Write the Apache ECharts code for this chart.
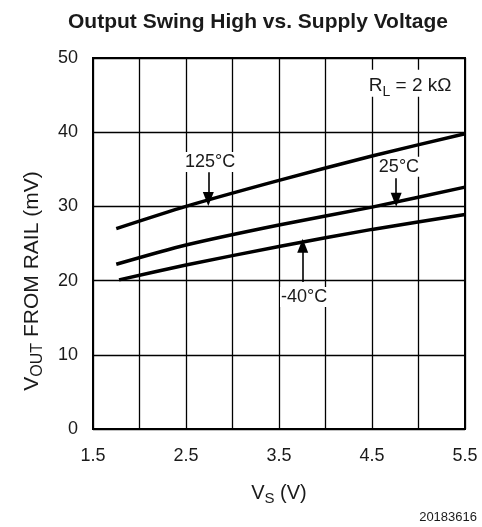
<!DOCTYPE html>
<html><head><meta charset="utf-8">
<script src="https://cdn.jsdelivr.net/npm/echarts@6/dist/echarts.min.js"></script>
<style>html,body{margin:0;padding:0;background:#fff}#c{width:482px;height:527px}</style>
</head><body><div id="c"></div>
<script>
var xTicks = ['1.5','2.5','3.5','4.5','5.5'];
var yTicks = ['0','10','20','30','40','50'];
var t125 = [[1.75,27.0],[2.5,30.0],[3.5,33.5],[4.5,36.8],[5.5,39.8]];
var t25  = [[1.75,22.2],[2.5,24.8],[3.5,27.5],[4.5,29.9],[5.5,32.6]];
var tm40 = [[1.78,20.1],[2.5,22.1],[3.5,24.6],[4.5,26.9],[5.5,28.9]];
var labels = [[2.76,36.0,'125°C'],[4.79,35.35,'25°C'],[3.77,17.8,'-40°C']];
var arrows = [[[2.74,34.6],[2.74,31.0]],[[4.76,33.8],[4.76,30.9]],[[3.755,19.8],[3.755,24.7]]];
var noteRL = [[4.91,46.6]];

var FONT = 'Liberation Sans, Arial, sans-serif';
var TXT = '#1a1a1a';
var chart = echarts.init(document.getElementById('c'), null, {renderer:'canvas'});
function lineSeries(d){
  return {type:'line', data:d, symbol:'none', smooth:0.25, lineStyle:{color:'#000', width:3.5}, z:3, silent:true};
}
function rich(big, small){
  return {
    m:{fontFamily:FONT, fontSize:big, color:TXT, fill:TXT, lineHeight:big+6, verticalAlign:'bottom'},
    s:{fontFamily:FONT, fontSize:small, color:TXT, fill:TXT, lineHeight:big+6, verticalAlign:'bottom', padding:[0,0,-3,0]}
  };
}
chart.setOption({
  animation:false,
  title:{text:'Output Swing High vs. Supply Voltage', left:63, top:7,
    textStyle:{fontFamily:FONT, fontSize:21, fontWeight:'bold', color:TXT}},
  grid:{left:93, right:17, top:58, bottom:98, show:true, borderColor:'#000', borderWidth:2, backgroundColor:'transparent'},
  xAxis:{type:'value', min:1.5, max:5.5, interval:0.5,
    axisLine:{show:false}, axisTick:{show:false},
    splitLine:{show:true, lineStyle:{color:'#000', width:1.3}},
    axisLabel:{margin:18, fontFamily:FONT, fontSize:18, color:TXT,
      formatter:function(v){ var s=v.toFixed(1); return xTicks.indexOf(s)>=0 ? s : ''; }},
    name:'{m|V}{s|S}{m| (V)}', nameLocation:'middle', nameGap:48,
    nameTextStyle:{fontFamily:FONT, color:TXT, rich:rich(20,15)}
  },
  yAxis:{type:'value', min:0, max:50, interval:10,
    axisLine:{show:false}, axisTick:{show:false},
    splitLine:{show:true, lineStyle:{color:'#000', width:1.3}},
    axisLabel:{margin:15, fontFamily:FONT, fontSize:18, color:TXT,
      formatter:function(v){ var s=String(v); return yTicks.indexOf(s)>=0 ? s : ''; }}
  },
  graphic:[
    {type:'text', right:5, top:511, style:{text:'20183616', fontFamily:FONT, fontSize:13, fill:TXT}},
    {type:'text', x:29, y:281, rotation:Math.PI/2, style:{
      text:'{m|V}{s|OUT}{m| FROM RAIL (mV)}', align:'center', verticalAlign:'middle', rich:rich(21,16)}}
  ],
  series:[
    lineSeries(t125), lineSeries(t25), lineSeries(tm40),
    {type:'scatter', data:labels, symbolSize:0, z:4, silent:true, itemStyle:{opacity:1},
      label:{show:true, position:'inside', formatter:function(p){return p.data[2];},
        fontFamily:FONT, fontSize:18, color:TXT, backgroundColor:'#fff', padding:[1,1]},
      markLine:{silent:true, symbol:['none','triangle'], symbolSize:[11,14],
        lineStyle:{color:'#000', width:1.6, type:'solid', opacity:1}, label:{show:false},
        data:arrows.map(function(a){return [{coord:a[0]},{coord:a[1]}];})}
    },
    {type:'scatter', data:noteRL, symbolSize:0, z:4, silent:true, itemStyle:{opacity:1},
      label:{show:true, position:'inside', formatter:'{m|R}{s|L}{m| = 2 kΩ}',
        backgroundColor:'#fff', padding:[1,2], rich:rich(19,14)}}
  ]
});
</script></body></html>
